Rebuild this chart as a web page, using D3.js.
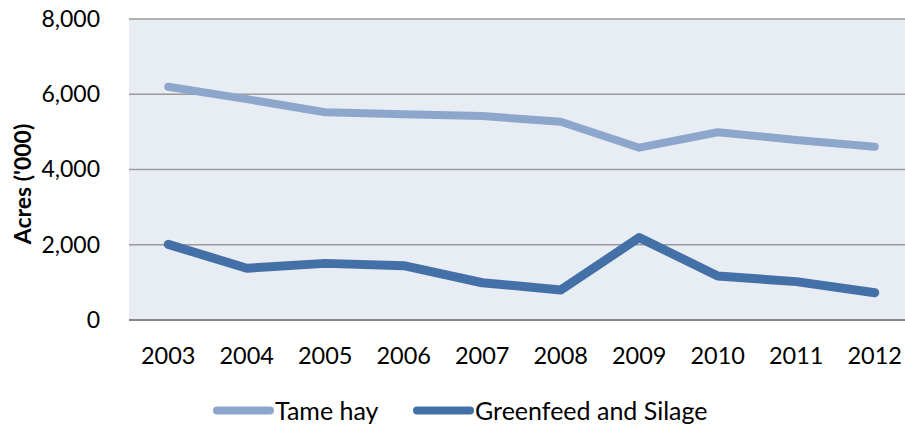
<!DOCTYPE html>
<html>
<head>
<meta charset="utf-8">
<script src="https://cdn.jsdelivr.net/npm/d3@7"></script>
<style>
  body { margin: 0; background: #fff; }
  svg { display: block; font-family: Lato, "Open Sans", sans-serif; }
</style>
</head>
<body>
<svg width="905" height="425"></svg>
<script>
// Data
var years = ["2003", "2004", "2005", "2006", "2007", "2008", "2009", "2010", "2011", "2012"];
var tameHay = [6200, 5870, 5520, 5470, 5420, 5270, 4580, 4990, 4785, 4605];
var greenfeed = [2010, 1375, 1505, 1445, 990, 800, 2190, 1170, 1020, 725];
var yTicks = [0, 2000, 4000, 6000, 8000];
var seriesNames = ["Tame hay", "Greenfeed and Silage"];
var seriesColors = ["#8DA6CC", "#4470A8"];

var svg = d3.select("svg");

var plotLeft = 129, plotRight = 914, plotTop = 19, plotBottom = 320;

var xScale = d3.scaleBand()
  .domain(years)
  .range([plotLeft, plotRight]);

var yScale = d3.scaleLinear()
  .domain([0, 8000])
  .range([plotBottom, plotTop]);

// plot background
svg.append("rect")
  .attr("x", plotLeft).attr("y", plotTop)
  .attr("width", plotRight - plotLeft).attr("height", plotBottom - plotTop)
  .attr("fill", "#E8ECF3");

// gridlines
svg.selectAll("line.grid")
  .data(yTicks.filter(function(d) { return d > 0; }))
  .enter()
  .append("line")
  .attr("class", "grid")
  .attr("x1", plotLeft).attr("x2", plotRight)
  .attr("y1", function(d) { return yScale(d); })
  .attr("y2", function(d) { return yScale(d); })
  .attr("stroke", "#9A9A9A")
  .attr("stroke-width", 1.5);

// y axis labels
var yAxis = d3.axisLeft(yScale)
  .tickValues(yTicks)
  .tickFormat(d3.format(","))
  .tickSize(0)
  .tickPadding(29);
var gy = svg.append("g").attr("transform", "translate(" + plotLeft + ",0)").call(yAxis);
gy.select(".domain").remove();
gy.selectAll("text").attr("font-size", "23px").attr("fill", "#000").attr("font-family", "Lato, sans-serif");

// x axis baseline
svg.append("line")
  .attr("x1", plotLeft).attr("x2", plotRight)
  .attr("y1", plotBottom).attr("y2", plotBottom)
  .attr("stroke", "#868686")
  .attr("stroke-width", 2);

// x axis labels
svg.selectAll("text.year")
  .data(years)
  .enter()
  .append("text")
  .attr("class", "year")
  .attr("x", function(d) { return xScale(d) + xScale.bandwidth() / 2; })
  .attr("y", 364)
  .attr("text-anchor", "middle")
  .attr("font-size", "23.5px")
  .attr("fill", "#000")
  .text(function(d) { return d; });

// y axis title
svg.append("text")
  .attr("transform", "translate(31,184) rotate(-90)")
  .attr("text-anchor", "middle")
  .attr("font-size", "23px")
  .attr("font-weight", "bold")
  .attr("fill", "#000")
  .text("Acres ('000)");

// lines
var line = d3.line()
  .x(function(d, i) { return xScale(years[i]) + xScale.bandwidth() / 2; })
  .y(function(d) { return yScale(d); });

[tameHay, greenfeed].forEach(function(series, i) {
  svg.append("path")
    .datum(series)
    .attr("fill", "none")
    .attr("stroke", seriesColors[i])
    .attr("stroke-width", i === 0 ? 8 : 9)
    .attr("stroke-linecap", "round")
    .attr("stroke-linejoin", "round")
    .attr("d", line);
});

// legend
var legendX = [217, 417];
seriesNames.forEach(function(name, i) {
  var g = svg.append("g").attr("transform", "translate(" + legendX[i] + ",410.5)");
  g.append("line")
    .attr("x1", 0).attr("x2", 53)
    .attr("y1", 0).attr("y2", 0)
    .attr("stroke", seriesColors[i])
    .attr("stroke-width", 8)
    .attr("stroke-linecap", "round");
  g.append("text")
    .attr("x", 58)
    .attr("y", 9)
    .attr("font-size", "25px")
    .attr("fill", "#000")
    .text(name);
});
</script>
</body>
</html>
